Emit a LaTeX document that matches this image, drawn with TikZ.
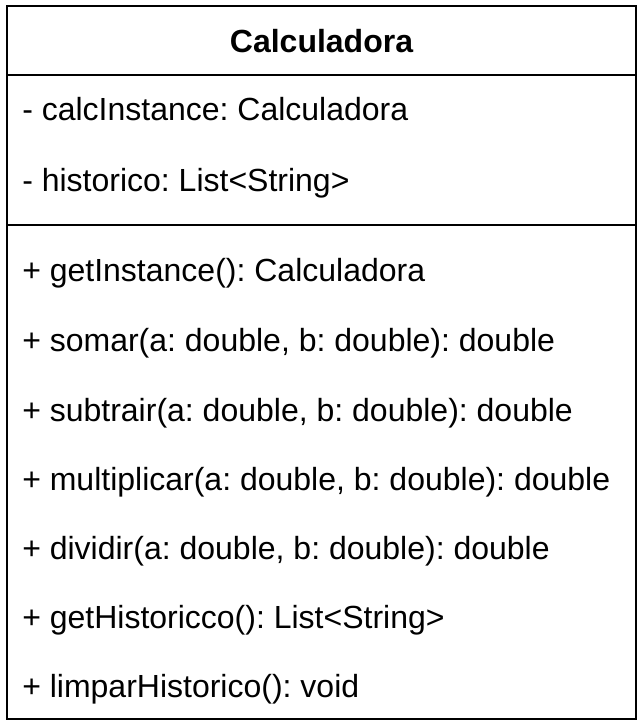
\documentclass[tikz,border=0pt]{standalone}
\usepackage{fontspec}
\setmainfont{Liberation Sans}
\begin{document}
\frenchspacing
\begin{tikzpicture} [
        x=0.75pt, y=-0.75pt,
        member/.style = {anchor=base west, inner sep=0pt, font=\fontsize{24}{28}\selectfont},
        title/.style = {anchor=base, inner sep=0pt, font=\fontsize{24}{28}\selectfont\bfseries},
        frame/.style = {draw, line width=1.4pt},
    ]
    \useasboundingbox (0,0) rectangle (643,728);
    % class box and its compartments
    \coordinate (nw) at (7,6);
    \coordinate (se) at (636,719);
    \draw[frame] (nw) rectangle (se);
    \draw[frame] (7,75) -- (636,75);
    \draw[frame] (7,225) -- (636,225);
    \node[title] (cls) at (321.5,52) {Calculadora};
    % attributes
    \foreach \y/\name/\text in {
            {120/a1/- calcInstance: Calculadora},
            {191/a2/- historico: List<String>}}
        \node[member] (\name) at (22,\y) {\text};
    % operations
    \foreach \y/\name/\text in {
            {281/m1/+ getInstance(): Calculadora},
            {351/m2/+ somar(a: double{,} b: double): double},
            {421/m3/+ subtrair(a: double{,} b: double): double},
            {490/m4/+ multiplicar(a: double{,} b: double): double},
            {559/m5/+ dividir(a: double{,} b: double): double},
            {628/m6/+ getHistoricco(): List<String>},
            {697/m7/+ limparHistorico(): void}}
        \node[member] (\name) at (22,\y) {\text};
\end{tikzpicture}
\end{document}
